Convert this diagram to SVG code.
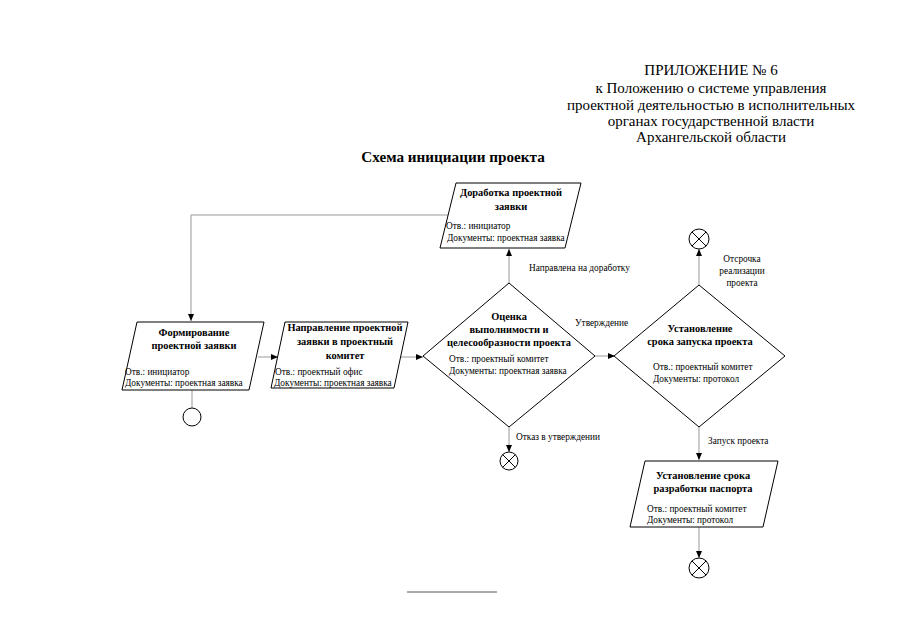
<svg xmlns="http://www.w3.org/2000/svg" width="905" height="640" viewBox="0 0 905 640">
<style>
.hdr{font-family:"Liberation Serif",serif;font-size:15px;fill:#000;text-anchor:middle}
.ttl{font-family:"Liberation Serif",serif;font-size:15.2px;font-weight:bold;fill:#000;text-anchor:middle}
.nt{font-family:"Liberation Serif",serif;font-size:10.4px;font-weight:bold;fill:#000;text-anchor:middle}
.nb{font-family:"Liberation Serif",serif;font-size:9.3px;fill:#000}
.lbl{font-family:"Liberation Serif",serif;font-size:9.3px;fill:#000}
.shp{fill:#fff;stroke:#000;stroke-width:1}
.con{fill:none;stroke:#999;stroke-width:1}
.end{fill:#fff;stroke:#000;stroke-width:1}
</style>
<defs>
<marker id="ah" markerWidth="8" markerHeight="8" refX="7" refY="4" orient="auto" markerUnits="userSpaceOnUse">
<path d="M0,1 L7,4 L0,7 z" fill="#000"/>
</marker>
</defs>
<rect width="905" height="640" fill="#fff"/>
<g id="header">
<text class="hdr" x="711" y="75">ПРИЛОЖЕНИЕ № 6</text>
<text class="hdr" x="711" y="93">к Положению о системе управления</text>
<text class="hdr" x="711" y="110">проектной деятельностью в исполнительных</text>
<text class="hdr" x="711" y="126">органах государственной власти</text>
<text class="hdr" x="711" y="142">Архангельской области</text>
</g>
<text class="ttl" x="453" y="162">Схема инициации проекта</text>

<g id="connectors">
<polyline class="con" points="448,215 191,215 191,321" marker-end="url(#ah)"/>
<line class="con" x1="258" y1="357" x2="278" y2="357" marker-end="url(#ah)"/>
<line class="con" x1="400" y1="357" x2="423" y2="357" marker-end="url(#ah)"/>
<line class="con" x1="509" y1="283" x2="509" y2="249" marker-end="url(#ah)"/>
<line class="con" x1="595" y1="356" x2="615" y2="356" marker-end="url(#ah)"/>
<line class="con" x1="509" y1="427" x2="509" y2="452" marker-end="url(#ah)"/>
<line class="con" x1="699" y1="285" x2="699" y2="249" marker-end="url(#ah)"/>
<line class="con" x1="699" y1="427" x2="699" y2="460" marker-end="url(#ah)"/>
<line class="con" x1="699" y1="527" x2="699" y2="558" marker-end="url(#ah)"/>
<line class="con" x1="192" y1="390" x2="192" y2="408"/>
<text class="lbl" x="529" y="271">Направлена на доработку</text>
<text class="lbl" x="575" y="326">Утверждение</text>
<text class="lbl" x="516" y="440">Отказ в утверждении</text>
<text class="lbl" x="742" y="262" text-anchor="middle">Отсрочка</text>
<text class="lbl" x="742" y="274" text-anchor="middle">реализации</text>
<text class="lbl" x="742" y="286" text-anchor="middle">проекта</text>
<text class="lbl" x="708" y="444">Запуск проекта</text>
</g>

<g id="dorabotka">
<polygon class="shp" points="456,183 581,183 565,248 440,248"/>
<text class="nt" x="511" y="196">Доработка проектной</text>
<text class="nt" x="511" y="210">заявки</text>
<text class="nb" x="446" y="229">Отв.: инициатор</text>
<text class="nb" x="447" y="241">Документы: проектная заявка</text>
</g>

<g id="formirovanie">
<polygon class="shp" points="137,322 264,322 249,390 122,390"/>
<text class="nt" x="194" y="336">Формирование</text>
<text class="nt" x="194" y="349">проектной заявки</text>
<text class="nb" x="125" y="375">Отв.: инициатор</text>
<text class="nb" x="125" y="386">Документы: проектная заявка</text>
</g>

<g id="start">
<circle class="end" cx="192" cy="417" r="9"/>
</g>

<g id="napravlenie">
<polygon class="shp" points="285,322 408,322 394,388 271,388"/>
<text class="nt" x="345" y="331">Направление проектной</text>
<text class="nt" x="345" y="345">заявки в проектный</text>
<text class="nt" x="345" y="359">комитет</text>
<text class="nb" x="275" y="375">Отв.: проектный офис</text>
<text class="nb" x="274" y="386">Документы: проектная заявка</text>
</g>

<g id="ocenka">
<polygon class="shp" points="509,283 595,356 509,427 423,356"/>
<text class="nt" x="509" y="320">Оценка</text>
<text class="nt" x="509" y="333">выполнимости и</text>
<text class="nt" x="509" y="346">целесообразности проекта</text>
<text class="nb" x="449" y="362">Отв.: проектный комитет</text>
<text class="nb" x="449" y="374">Документы: проектная заявка</text>
</g>

<g id="otkaz">
<circle class="end" cx="509" cy="461" r="9"/>
<path d="M502.6,454.6 L515.4,467.4 M515.4,454.6 L502.6,467.4" stroke="#000" stroke-width="1"/>
</g>

<g id="ustanovlenie-zapuska">
<polygon class="shp" points="699,285 785,356 699,427 614,356"/>
<text class="nt" x="700" y="332">Установление</text>
<text class="nt" x="700" y="345">срока запуска проекта</text>
<text class="nb" x="653" y="370">Отв.: проектный комитет</text>
<text class="nb" x="653" y="382">Документы: протокол</text>
</g>

<g id="otsrochka">
<circle class="end" cx="699" cy="239" r="10"/>
<path d="M691.9,231.9 L706.1,246.1 M706.1,231.9 L691.9,246.1" stroke="#000" stroke-width="1"/>
</g>

<g id="ustanovlenie-razrabotki">
<polygon class="shp" points="645,461 778,461 763,527 630,527"/>
<text class="nt" x="703" y="479">Установление срока</text>
<text class="nt" x="703" y="492">разработки паспорта</text>
<text class="nb" x="647" y="512">Отв.: проектный комитет</text>
<text class="nb" x="647" y="523">Документы: протокол</text>
</g>

<g id="final">
<circle class="end" cx="699" cy="568" r="10"/>
<path d="M691.9,560.9 L706.1,575.1 M706.1,560.9 L691.9,575.1" stroke="#000" stroke-width="1"/>
</g>

<line x1="407" y1="592" x2="497" y2="592" stroke="#555" stroke-width="1"/>
</svg>
